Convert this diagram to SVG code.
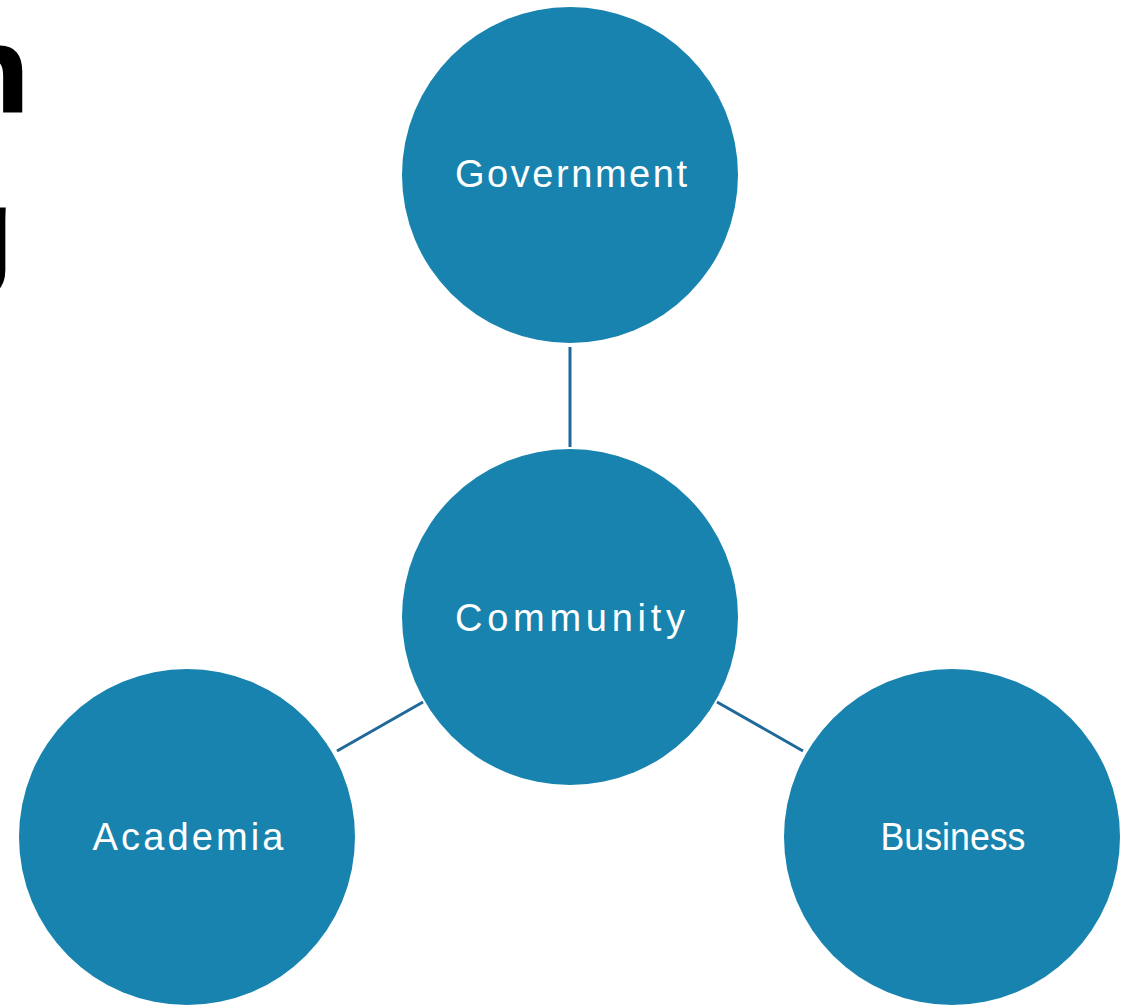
<svg xmlns="http://www.w3.org/2000/svg" width="1132" height="1007" viewBox="0 0 1132 1007">
  <style>
    .node { fill: #1783AE; }
    .label { fill: #ffffff; font-family: "Liberation Sans", Arial, sans-serif; font-size: 38px; text-anchor: middle; lengthAdjust: spacing; }
    .link { stroke: #1F689A; stroke-width: 3; fill: none; }
    .title { fill: #000000; stroke: #000000; stroke-width: 3; font-family: "Liberation Sans", Arial, sans-serif; font-weight: bold; font-size: 118px; text-anchor: end; }
  </style>
  <rect width="1132" height="1007" fill="#ffffff"/>

  <!-- heading, mostly outside the left edge -->
  <text class="title" x="28" y="111">n</text>
  <text class="title" x="12" y="272">g</text>

  <g id="connectors">
    <line class="link" x1="570" y1="347" x2="570" y2="447"/>
    <line class="link" x1="337" y1="751" x2="423" y2="702"/>
    <line class="link" x1="717" y1="702" x2="803" y2="751"/>
  </g>

  <g id="government">
    <circle class="node" cx="570" cy="175" r="168"/>
    <text class="label" x="571" y="187" textLength="232" lengthAdjust="spacing">Government</text>
  </g>
  <g id="community">
    <circle class="node" cx="570" cy="617" r="168"/>
    <text class="label" x="570" y="631" textLength="230" lengthAdjust="spacing">Community</text>
  </g>
  <g id="academia">
    <circle class="node" cx="187" cy="837" r="168"/>
    <text class="label" x="188" y="850" textLength="191" lengthAdjust="spacing">Academia</text>
  </g>
  <g id="business">
    <circle class="node" cx="952" cy="837" r="168"/>
    <text class="label" x="953" y="850" textLength="145" lengthAdjust="spacingAndGlyphs">Business</text>
  </g>
</svg>
